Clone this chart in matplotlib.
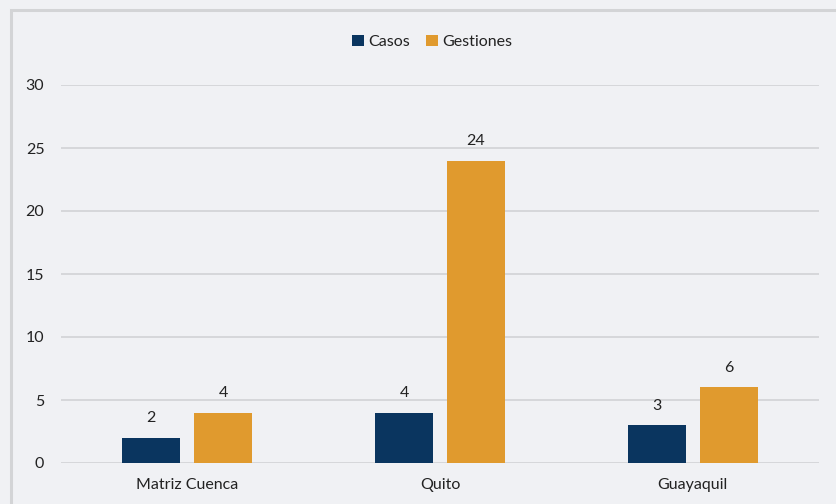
import matplotlib
matplotlib.use("Agg")
import matplotlib.pyplot as plt
from matplotlib.patches import Rectangle
import numpy as np

plt.rcParams['font.family'] = ['Lato', 'DejaVu Sans']

categories = ["Matriz Cuenca", "Quito", "Guayaquil"]
casos = [2, 4, 3]
gestiones = [4, 24, 6]
yticks = [0, 5, 10, 15, 20, 25, 30]

bg = "#F0F1F4"
navy = "#0A355F"
orange = "#E09A2E"

fig = plt.figure(figsize=(8.37, 5.04), dpi=100, facecolor=bg)
W, H = 837, 504
ax = fig.add_axes([61 / W, 1 - 463 / H, (819 - 61) / W, (463 - 85) / H])
ax.set_facecolor(bg)

# figure border
fig.patches.append(Rectangle((11 / W, -0.1), 1.2, 1 - 10 / H + 0.1, transform=fig.transFigure,
                             fill=False, edgecolor="#D3D4D6", linewidth=2.2, zorder=0))

x = np.arange(len(categories))
w = 0.23
off = 0.1425
b1 = ax.bar(x - off, casos, w, color=navy, label="Casos", zorder=3)
b2 = ax.bar(x + off, gestiones, w, color=orange, label="Gestiones", zorder=3)

fs = 11.5
for bars, vals in ((b1, casos), (b2, gestiones)):
    for r, v in zip(bars, vals):
        ax.text(r.get_x() + r.get_width() / 2, v + 1.0, f"{v}", ha="center", va="bottom",
                fontsize=fs, color="#222222")

ax.set_xlim(-0.5, 2.5)
ax.set_ylim(0, 30)
ax.set_yticks(yticks)
ax.set_xticks(x)
ax.set_xticklabels(categories)
ax.grid(axis="y", color="#D6D7DA", linewidth=1.4, zorder=0)
ax.set_axisbelow(True)
for s in ax.spines.values():
    s.set_visible(False)
ax.tick_params(axis="both", length=0, labelsize=fs, colors="#222222")
ax.tick_params(axis="y", pad=12)
ax.tick_params(axis="x", pad=11)

leg = fig.legend(handles=[b1, b2], labels=["Casos", "Gestiones"], loc="center",
                 bbox_to_anchor=(432 / W, 1 - 42 / H), ncol=2, frameon=False,
                 fontsize=fs, handlelength=0.75, handleheight=0.75, handletextpad=0.25,
                 columnspacing=1.0)
for t in leg.get_texts():
    t.set_color("#222222")

fig.savefig("out.png", dpi=100, facecolor=bg)
